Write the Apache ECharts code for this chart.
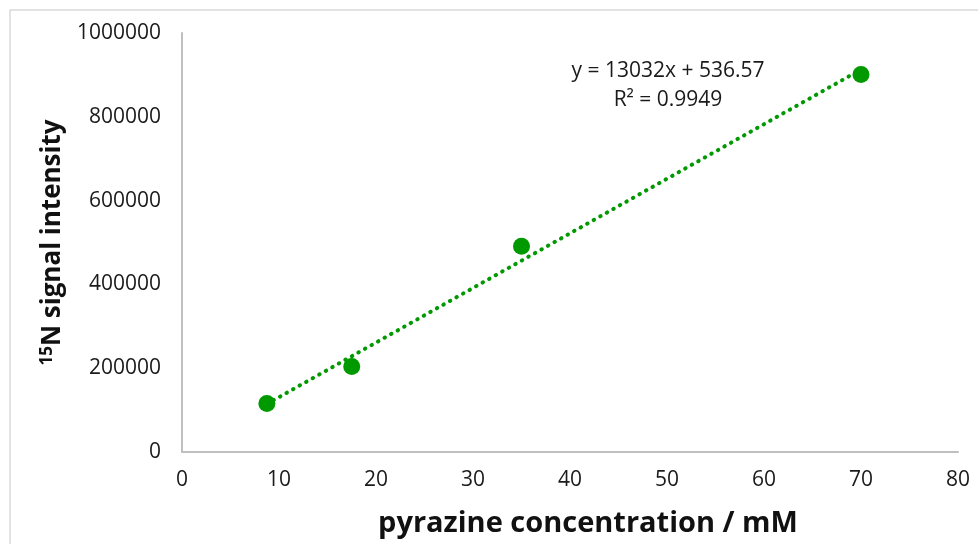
<!DOCTYPE html>
<html>
<head>
<meta charset="utf-8">
<script src="https://cdn.jsdelivr.net/npm/echarts@6/dist/echarts.min.js"></script>
<style>
html,body{margin:0;padding:0;background:#fff;}
#chart{width:978px;height:544px;}
</style>
</head>
<body>
<div id="chart"></div>
<script>
// Data
const concentrations = [8.75, 17.5, 35, 70];          // mM
const intensities = [116000, 204000, 491000, 901000]; // 15N signal intensity
const trendSlope = 13032;
const trendIntercept = 536.57;
const trendR2 = 0.9949;
const xTicks = [0, 10, 20, 30, 40, 50, 60, 70, 80];
const yTicks = [0, 200000, 400000, 600000, 800000, 1000000];

const FONT = 'Open Sans';
const GREEN = '#009900';

const points = concentrations.map((x, i) => [x, intensities[i]]);
const xMin = Math.min(...concentrations), xMax = Math.max(...concentrations);
const trend = [[xMin, trendSlope * xMin + trendIntercept], [xMax, trendSlope * xMax + trendIntercept]];

const chart = echarts.init(document.getElementById('chart'), null, {renderer: 'canvas'});
chart.setOption({
  animation: false,
  backgroundColor: '#fff',
  grid: {left: 182, right: 20, top: 33, bottom: 92, containLabel: false},
  xAxis: {
    type: 'value', min: xTicks[0], max: xTicks[xTicks.length - 1], interval: 10,
    axisLine: {lineStyle: {color: '#bfbfbf', width: 2}},
    axisTick: {show: false},
    splitLine: {show: false},
    axisLabel: {color: '#1a1a1a', fontFamily: FONT, fontSize: 21, margin: 18, formatter: v => String(v)},
    name: 'pyrazine concentration / mM',
    nameLocation: 'middle',
    nameGap: 57,
    nameTextStyle: {color: '#111', fontFamily: FONT, fontSize: 29, fontWeight: 'bold', padding: [0, 0, 0, 36]}
  },
  yAxis: {
    type: 'value', min: yTicks[0], max: yTicks[yTicks.length - 1], interval: 200000,
    axisLine: {show: true, lineStyle: {color: '#bfbfbf', width: 2}},
    axisTick: {show: false},
    splitLine: {show: false},
    axisLabel: {color: '#1a1a1a', fontFamily: FONT, fontSize: 21, margin: 21, formatter: v => String(v)},
    name: '{sup|15}{b|N signal intensity}',
    nameLocation: 'middle',
    nameGap: 116,
    nameTextStyle: {
      color: '#111', fontFamily: FONT, fontSize: 26, fontWeight: 'bold',
      rich: {
        sup: {color: '#111', fontFamily: FONT, fontSize: 17, fontWeight: 'bold', verticalAlign: 'top', padding: [0, 0, 10, 0]},
        b: {color: '#111', fontFamily: FONT, fontSize: 26, fontWeight: 'bold'}
      }
    }
  },
  series: [
    {
      type: 'line', data: trend, showSymbol: false, symbol: 'none', z: 2,
      lineStyle: {color: GREEN, width: 4, type: [0.5, 7], cap: 'round'}
    },
    {
      type: 'scatter', data: points, symbol: 'circle', symbolSize: 17, z: 3,
      itemStyle: {color: GREEN, opacity: 1}
    }
  ],
  graphic: [
    {type: 'rect', x: 10, y: 10, shape: {x: 0, y: 0, width: 1000, height: 600},
     style: {fill: 'none', stroke: '#d9d9d9', lineWidth: 1.5}, z: -1, silent: true},
    {type: 'text', x: 668, y: 71, style: {text: 'y = ' + trendSlope + 'x + ' + trendIntercept, font: '21px "Open Sans"', fill: '#1a1a1a', align: 'center', verticalAlign: 'middle'}},
    {type: 'text', x: 668, y: 100, style: {text: 'R\u00b2 = ' + trendR2, font: '21px "Open Sans"', fill: '#1a1a1a', align: 'center', verticalAlign: 'middle'}}
  ]
});
</script>
</body>
</html>
